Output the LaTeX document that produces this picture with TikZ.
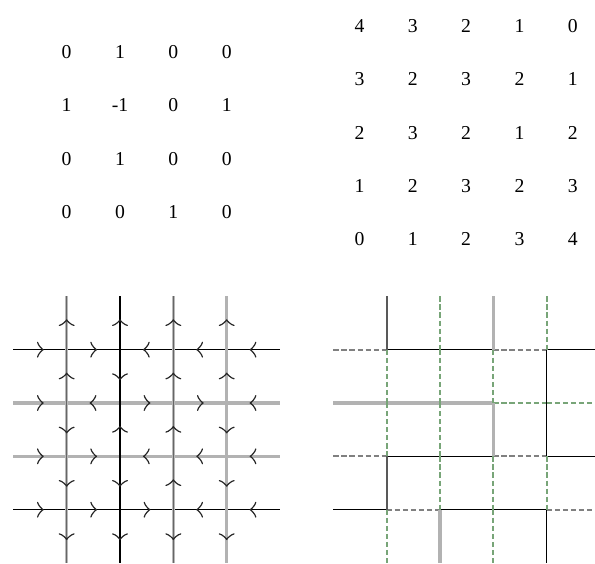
\documentclass[tikz,border=0pt]{standalone}
\usepackage{fontspec}
\setmainfont{Liberation Serif}
\usepackage{tikz}
\usetikzlibrary{arrows.meta,decorations.markings}

\definecolor{dashgreen}{RGB}{120,165,120}

\begin{document}
\begin{tikzpicture}[
  font=\fontsize{10.5}{12}\selectfont,
  num/.style={inner sep=0pt},
  pb/.style={draw=black, line width=0.6pt},
  pg/.style={draw=gray!60, line width=1.7pt},
  pk/.style={draw=black!65, line width=1pt},
  pgk/.style={draw=black!60, line width=0.5pt, preaction={draw=gray!55, line width=1.7pt}},
  hd/.style={draw=gray, line width=0.9pt, dash pattern=on 2.8pt off 1.5pt},
  vd/.style={draw=dashgreen, line width=1pt, dash pattern=on 2.8pt off 1.5pt},
  flow/.style={decorate, decoration={markings, mark=at position 0.57 with {\arrow[black!85, line width=0.8pt]{Classical TikZ Rightarrow[length=3.6pt,width=8.5pt]}}}}
]
\useasboundingbox (0,0) rectangle (11.156,10.556);
% alternating sign matrix
\foreach \row [count=\r] in {{0,1,0,0},{1,-1,0,1},{0,1,0,0},{0,0,1,0}}
  \foreach \v [count=\c] in \row
    \node[num] (a-\r-\c) at (\c+0.25, 10.58-\r) {\v};
% height function
\foreach \row [count=\r] in {{4,3,2,1,0},{3,2,3,2,1},{2,3,2,1,2},{1,2,3,2,3},{0,1,2,3,4}}
  \foreach \v [count=\c] in \row
    \node[num] (h-\r-\c) at (\c+5.74, 11.07-\r) {\v};
% six-vertex grid
\foreach \y/\s in {4/pb,3/pg,2/pg,1/pb}
  \draw[\s] (0.25,\y) -- (5.25,\y);
\foreach \x/\s in {1.25/pgk,2.25/pb,3.25/pgk,4.25/pg}
  \draw[\s] (\x,5) -- (\x,0);
\foreach \dirs [count=\r] in {{1,1,-1,-1,-1},{1,-1,1,1,-1},{1,1,-1,-1,-1},{1,1,1,-1,-1}}
  \foreach \d [count=\k] in \dirs
    \path[flow] ({\k-0.25-0.5*\d},5-\r) -- ({\k-0.25+0.5*\d},5-\r);
\foreach \dirs [count=\c] in {{1,1,-1,-1,-1},{1,-1,1,-1,-1},{1,1,1,1,-1},{1,1,-1,-1,-1}}
  \foreach \d [count=\k] in \dirs
    \path[flow] (\c+0.25,{5.5-\k-0.5*\d}) -- (\c+0.25,{5.5-\k+0.5*\d});
% path grid
\foreach \segs [count=\r] in {{hd,pb,pb,hd,pb},{pg,pg,pg,vd,vd},{hd,pb,pb,hd,pb},{pb,hd,pb,pb,hd}}
  \foreach \s [count=\k] in \segs
    \draw[\s] ({\k+5.25},5-\r) -- ({min(\k+6.25,11.156)},5-\r);
\foreach \segs [count=\c] in {{pk,vd,vd,pk,vd},{vd,vd,vd,vd,pg},{pg,vd,pg,vd,vd},{vd,pb,pb,vd,pb}}
  \foreach \s [count=\k] in \segs
    \draw[\s] ({\c+6.25},6-\k) -- ({\c+6.25},5-\k);
\end{tikzpicture}
\end{document}
